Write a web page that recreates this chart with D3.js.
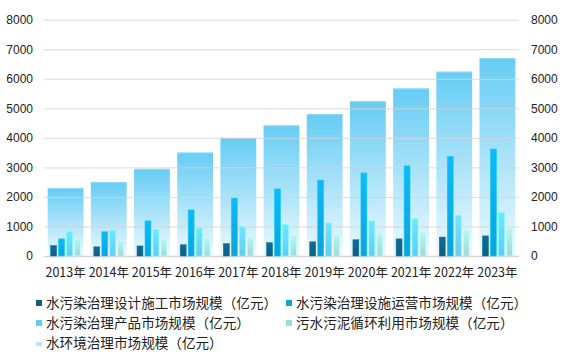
<!DOCTYPE html>
<html><head><meta charset="utf-8">
<script src="https://cdn.jsdelivr.net/npm/d3@7"></script>
<style>html,body{margin:0;padding:0;background:#fff;}svg{display:block;}</style>
</head><body>
<script>
const years = ["2013年","2014年","2015年","2016年","2017年","2018年","2019年","2020年","2021年","2022年","2023年"];
const designBuild = [350,310,340,380,420,450,480,550,580,640,680];
const facilityOps = [580,820,1190,1560,1960,2270,2570,2810,3050,3370,3620];
const products = [830,860,900,950,990,1060,1120,1190,1260,1380,1470];
const sludge = [570,510,550,610,640,680,710,750,810,870,950];
const waterEnv = [2300,2500,2950,3500,4000,4420,4800,5240,5670,6240,6700];
const yTicks = [0,1000,2000,3000,4000,5000,6000,7000,8000];
const seriesNames = ["水污染治理设计施工市场规模（亿元）","水污染治理设施运营市场规模（亿元）","水污染治理产品市场规模（亿元）","污水污泥循环利用市场规模（亿元）","水环境治理市场规模（亿元）"];
const seriesColors = ["#0d5f84","#0ba5dc","#62ccf3","#a0d9d8","#b6e6fa"];
const small = [designBuild, facilityOps, products, sludge];

const W = 568, H = 358;
const svg = d3.select("body").append("svg").attr("width", W).attr("height", H);
const defs = svg.append("defs");
const g1 = defs.append("linearGradient").attr("id","big").attr("x1",0).attr("y1",0).attr("x2",0).attr("y2",1);
g1.append("stop").attr("offset","0%").attr("stop-color","#66ccf4");
g1.append("stop").attr("offset","100%").attr("stop-color","#eef9fe");
seriesColors.slice(0,4).forEach((c,i)=>{
  const g = defs.append("linearGradient").attr("id","s"+i).attr("x1",0).attr("y1",0).attr("x2",0).attr("y2",1);
  g.append("stop").attr("offset","0%").attr("stop-color", d3.color(c).brighter(0.35));
  g.append("stop").attr("offset","100%").attr("stop-color", c);
});

const x = d3.scaleBand().domain(years).range([44,519]).paddingInner(0.17).paddingOuter(0.085);
const y = d3.scaleLinear().domain([0,8000]).range([256,19.7]);
const xs = d3.scaleBand().domain([0,1,2,3]).range([2.6, x.bandwidth()-2.6]).paddingInner(0.26).paddingOuter(0.05);

// big bars
svg.append("g").selectAll("rect").data(waterEnv).join("rect")
  .attr("x",(d,i)=>x(years[i])).attr("y",d=>y(d))
  .attr("width",x.bandwidth()).attr("height",d=>y(0)-y(d))
  .attr("fill","url(#big)");
svg.append("g").selectAll("line").data(waterEnv).join("line")
  .attr("x1",(d,i)=>x(years[i])).attr("x2",(d,i)=>x(years[i])+x.bandwidth())
  .attr("y1",d=>y(d)+0.5).attr("y2",d=>y(d)+0.5)
  .attr("stroke","#8fdcf8").attr("stroke-width",1);

// grid
const yAxisL = d3.axisLeft(y).tickValues(yTicks).tickSize(-(519-44)).tickFormat(d3.format("d"));
const gl = svg.append("g").attr("transform","translate(44,0)").call(yAxisL);
gl.select(".domain").remove();
gl.selectAll(".tick line").attr("stroke","#d4d4d4").attr("stroke-opacity",0.85);
gl.selectAll(".tick text").attr("x",-11).attr("font-family","Liberation Sans, Arial, sans-serif").attr("font-size",12).attr("fill","#222");
gl.selectAll(".tick").filter(d=>d===0).select("line").attr("stroke","#cfcfcf").attr("stroke-width",1.5);

const yAxisR = d3.axisRight(y).tickValues(yTicks).tickSize(0).tickFormat(d3.format("d"));
const gr = svg.append("g").attr("transform","translate(519,0)").call(yAxisR);
gr.select(".domain").remove();
gr.selectAll(".tick text").attr("x",12).attr("font-family","Liberation Sans, Arial, sans-serif").attr("font-size",12).attr("fill","#222");

// small bars
small.forEach((arr,si)=>{
  svg.append("g").selectAll("rect").data(arr).join("rect")
    .attr("x",(d,i)=>x(years[i])+xs(si)).attr("y",d=>y(d))
    .attr("width",xs.bandwidth()).attr("height",d=>y(0)-y(d))
    .attr("fill","url(#s"+si+")")
    .attr("stroke", d3.color(seriesColors[si]).brighter(0.6)).attr("stroke-width",0.6);
});

// x labels
svg.append("g").selectAll("text").data(years).join("text")
  .attr("x",d=>x(d)+x.bandwidth()/2).attr("y",277)
  .attr("text-anchor","middle")
  .attr("font-family","'Noto Sans CJK SC', sans-serif").attr("font-size",12.5).attr("fill","#222")
  .text(d=>d);

// legend
const legPos = [[36,303],[286,303],[36,323],[286,323],[36,343]];
const lg = svg.append("g");
seriesNames.forEach((n,i)=>{
  const [lx,ly] = legPos[i];
  if(i<4){
    lg.append("rect").attr("x",lx).attr("y",ly-3).attr("width",6).attr("height",6).attr("fill",seriesColors[i]);
  } else {
    lg.append("rect").attr("x",lx).attr("y",ly-1).attr("width",6).attr("height",4).attr("fill",seriesColors[i]);
  }
  lg.append("text").attr("x",lx+10).attr("y",ly).attr("dy","0.35em")
    .attr("font-family","'Noto Sans CJK SC', sans-serif").attr("font-size",13.6).attr("fill","#222")
    .text(n);
});
</script>
</body></html>
